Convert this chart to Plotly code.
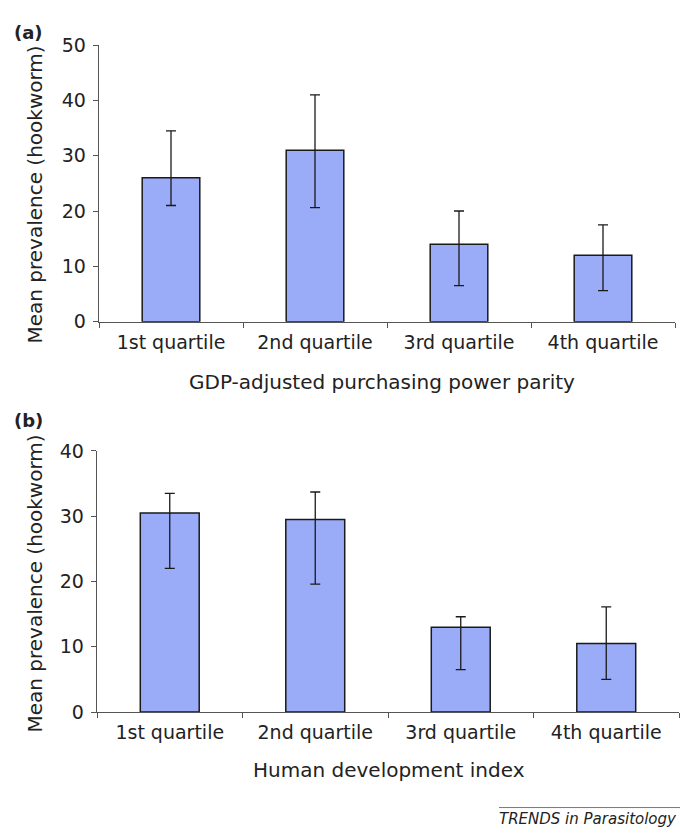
import plotly.graph_objects as go

categories = ["1st quartile", "2nd quartile", "3rd quartile", "4th quartile"]

# Panel (a): GDP-adjusted purchasing power parity
a_mean = [26.0, 31.0, 14.0, 12.0]
a_upper = [34.5, 41.0, 20.0, 17.5]
a_lower = [21.0, 20.6, 6.5, 5.6]

# Panel (b): Human development index
b_mean = [30.5, 29.5, 13.0, 10.5]
b_upper = [33.5, 33.7, 14.6, 16.1]
b_lower = [22.0, 19.6, 6.5, 5.0]

a_yticks = [0, 10, 20, 30, 40, 50]
b_yticks = [0, 10, 20, 30, 40]

W, H = 680, 839
FONT = "DejaVu Sans"
BAR = "#9aabf8"
TXT = "#222222"
AX = "#555555"


def px(x):
    return x / W


def py(y):
    return 1 - y / H


fig = go.Figure()


def add_panel(mean, upper, lower, xa, ya, width):
    fig.add_trace(go.Bar(
        x=categories, y=mean, xaxis=xa, yaxis=ya, width=width,
        marker=dict(color=BAR, line=dict(color="#1a1a1a", width=1.5)),
        error_y=dict(type="data", symmetric=False,
                     array=[u - m for u, m in zip(upper, mean)],
                     arrayminus=[m - l for m, l in zip(mean, lower)],
                     color="#1a1a1a", thickness=1.3, width=5),
        showlegend=False,
    ))


add_panel(a_mean, a_upper, a_lower, "x", "y", 0.4)
add_panel(b_mean, b_upper, b_lower, "x2", "y2", 0.405)

xcommon = dict(type="category", tickson="boundaries", ticks="outside", ticklen=5,
               tickcolor=AX, showline=True, linecolor=AX, linewidth=1.3,
               tickfont=dict(family=FONT, size=19, color=TXT), showgrid=False,
               zeroline=False, ticklabelstandoff=3)
ycommon = dict(ticks="outside", ticklen=5, tickcolor=AX, showline=True, linecolor=AX,
               linewidth=1.3, tickfont=dict(family=FONT, size=19, color=TXT),
               showgrid=False, zeroline=False, ticklabelstandoff=3)

fig.update_layout(
    width=W, height=H, margin=dict(l=0, r=0, t=0, b=0),
    paper_bgcolor="white", plot_bgcolor="white", bargap=0.6,
    xaxis=dict(domain=[px(99), px(675)], anchor="y", **xcommon),
    yaxis=dict(domain=[py(319), py(35)], anchor="x", range=[0, 50],
               tickvals=a_yticks, **ycommon),
    xaxis2=dict(domain=[px(97), px(679)], anchor="y2", **xcommon),
    yaxis2=dict(domain=[py(720), py(451.7)], anchor="x2", range=[0, 40],
                tickvals=b_yticks, **ycommon),
)

ann = [
    dict(text="<b>(a)</b>", x=px(12), y=py(22), xanchor="left", yanchor="middle",
         font=dict(family=FONT, size=18, color=TXT)),
    dict(text="<b>(b)</b>", x=px(12), y=py(421), xanchor="left", yanchor="middle",
         font=dict(family=FONT, size=18, color=TXT)),
    dict(text="Mean prevalence (hookworm)", x=px(35), y=py(188.5), textangle=-90,
         xanchor="center", yanchor="middle", font=dict(family=FONT, size=20, color=TXT)),
    dict(text="Mean prevalence (hookworm)", x=px(35), y=py(588), textangle=-90,
         xanchor="center", yanchor="middle", font=dict(family=FONT, size=20, color=TXT)),
    dict(text="GDP-adjusted purchasing power parity", x=px(382), y=py(381),
         xanchor="center", yanchor="middle", font=dict(family=FONT, size=20, color=TXT)),
    dict(text="Human development index", x=px(389), y=py(779),
         xanchor="center", yanchor="middle", font=dict(family=FONT, size=20, color=TXT)),
    dict(text="<i>TRENDS in Parasitology</i>", x=px(679), y=py(830),
         xanchor="right", yanchor="middle", font=dict(family=FONT, size=15, color=TXT)),
]
for a in ann:
    fig.add_annotation(xref="paper", yref="paper", showarrow=False, **a)

fig.add_shape(type="line", xref="paper", yref="paper", x0=px(499), x1=px(680),
              y0=py(818), y1=py(818), line=dict(color="#777777", width=1))

fig.write_html(
    "out.html",
    config={"displayModeBar": False, "staticPlot": True},
    post_script="document.body.style.margin='0px';document.body.style.overflow='hidden';",
)
